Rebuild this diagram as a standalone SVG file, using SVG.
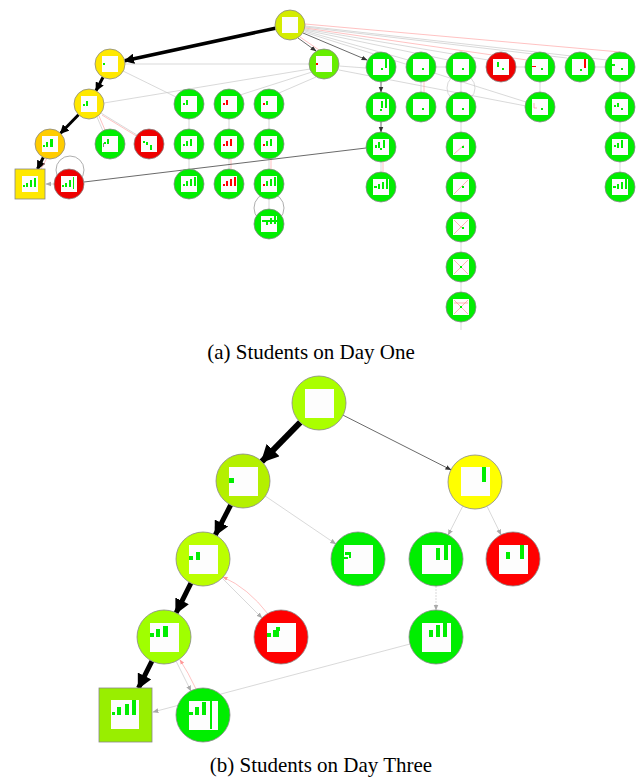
<svg xmlns="http://www.w3.org/2000/svg" width="642" height="778" viewBox="0 0 642 778">
<style>
.n{stroke:#888;stroke-width:0.8}
.w{fill:#fdfdfd}
.g{fill:#00ee00}
.r{fill:#ff0000}
.th{stroke:#000;fill:none}
.dk{stroke:#444;stroke-width:0.8;fill:none}
.lt{stroke:#c8c8c8;stroke-width:0.7;fill:none}
.pk{stroke:#ff9999;stroke-width:0.6;fill:none}
.lp{stroke:#999;stroke-width:0.8;fill:none}
.cap{font-family:"Liberation Serif",serif;font-size:21px;fill:#000}
.x{stroke:#ff8080;stroke-width:0.6;fill:none}
</style>
<defs>
<marker id="ah" viewBox="0 0 10 10" refX="9" refY="5" markerWidth="3" markerHeight="3" orient="auto" markerUnits="strokeWidth"><path d="M0,0 L10,5 L0,10 z" fill="#000"/></marker>
<marker id="ad" viewBox="0 0 10 10" refX="9" refY="5" markerWidth="6" markerHeight="6" orient="auto" markerUnits="userSpaceOnUse"><path d="M0,1 L10,5 L0,9 z" fill="#333"/></marker>
<marker id="ag" viewBox="0 0 10 10" refX="9" refY="5" markerWidth="6" markerHeight="6" orient="auto" markerUnits="userSpaceOnUse"><path d="M0,1 L10,5 L0,9 z" fill="#aaa"/></marker>
<marker id="ap" viewBox="0 0 10 10" refX="9" refY="5" markerWidth="5" markerHeight="5" orient="auto" markerUnits="userSpaceOnUse"><path d="M0,1 L10,5 L0,9 z" fill="#ff9999"/></marker>
</defs>

<!-- ================= (a) connectors ================= -->
<g id="edges-a">
  <path class="pk" d="M305,24 L620,52"/>
  <path class="lt" d="M305,26 L607,60"/>
  <path class="lt" d="M305,27 L567,58"/>
  <path class="pk" d="M305,28 L527,60"/>
  <path class="lt" d="M305,29 L488,60"/>
  <path class="lt" d="M305,30 L448,60"/>
  <path class="lt" d="M305,31 L408,60"/>
  <path class="lt" d="M304,32 L526,102"/>
  <path class="dk" d="M303,33 L367,60" marker-end="url(#ad)"/>
  <path class="dk" d="M298,38 L316,51" marker-end="url(#ad)"/>
  <path class="pk" d="M300,37 L319,50"/>
  <path class="th" stroke-width="3.5" d="M275.3,28.2 L124.7,60.8" marker-end="url(#ah)"/>
  <path class="th" stroke-width="3" d="M103,77.3 L96,90.7" marker-end="url(#ah)"/>
  <path class="th" stroke-width="3" d="M78.5,114.7 L60.5,133.3" marker-end="url(#ah)"/>
  <path class="th" stroke-width="3" d="M43.3,157.4 L37.5,169" marker-end="url(#ah)"/>
  <path class="pk" d="M47,158 L41,169"/>
  <path class="lt" d="M125,64 L309,64"/>
  <path class="lt" d="M123,71 L176,97"/>
  <path class="lt" d="M104,103 L310,69"/>
  <path class="lt" d="M97,117 L103,131"/>
  <path class="pk" d="M99,116 L105,130"/>
  <path class="lt" d="M101,113 L137,135"/>
  <path class="pk" d="M102,115 L138,137"/>
  <path class="lt" d="M240,95 L312,72"/>
  <path class="lt" d="M279,93 L316,77"/>
  <path class="lt" d="M339,66 L366,68"/>
  <path class="lt" d="M339,70 L526,106"/>
  <path class="lt" d="M189,119 L189,129"/><path class="lt" d="M189,159 L189,169"/>
  <path class="lt" d="M229,119 L229,129"/><path class="pk" d="M231,159 L231,169"/><path class="lt" d="M229,159 L229,169"/>
  <path class="lt" d="M269,119 L269,129"/><path class="lt" d="M269,159 L269,169"/><path class="pk" d="M271,159 L271,169"/>
  <path class="lt" d="M269,199 L269,209"/>
  <circle class="lp" cx="269" cy="208" r="15"/>
  <circle class="lp" cx="70" cy="170" r="14"/>
  <path class="dk" stroke="#666" d="M84,182 L366,148"/>
  <path class="lt" stroke="#888" d="M54,184 L46,184" marker-end="url(#ag)"/>
  <path class="dk" d="M381,82 L381,92" marker-end="url(#ad)"/>
  <path class="dk" d="M381,122 L381,132" marker-end="url(#ad)"/>
  <path class="lt" d="M381,162 L381,172"/><path class="pk" d="M383,162 L383,172"/>
  <path class="lt" d="M421,82 L421,92"/><path class="pk" d="M424,82 L424,92"/>
  <path class="lt" d="M461,82 L461,92"/><path class="lt" d="M461,122 L461,132"/>
  <path class="lt" d="M461,162 L461,172"/><path class="lt" d="M461,202 L461,212"/>
  <path class="lt" d="M461,242 L461,252"/><path class="lt" d="M461,282 L461,292"/>
  <path class="lt" d="M461,322 L461,330"/>
  <circle class="lt" cx="461" cy="88" r="14"/>
  <path class="lt" d="M540,82 L540,92"/>
  <path class="lt" d="M620,82 L620,92"/><path class="lt" d="M620,122 L620,132"/><path class="lt" d="M620,162 L620,172"/>
  <path class="lt" d="M436,67 L446,67"/><path class="lt" d="M516,67 L525,67"/><path class="lt" d="M595,67 L605,67"/>
</g>

<!-- ================= (a) nodes ================= -->
<g id="a0"><circle class="n" cx="290" cy="25" r="15" fill="#d4ec00"/><rect class="w" x="282" y="17" width="16" height="16"/></g>
<g id="a1"><circle class="n" cx="110" cy="64" r="15" fill="#ffe800"/><rect class="w" x="102" y="56" width="16" height="16"/><rect class="g" x="103" y="63" width="2" height="2"/></g>
<g id="a2"><circle class="n" cx="89" cy="104" r="15" fill="#ffe800"/><rect class="w" x="81" y="96" width="16" height="16"/><rect class="g" x="83" y="104" width="2" height="2"/><rect class="g" x="86" y="101" width="2" height="5"/></g>
<g id="a3"><circle class="n" cx="50" cy="144" r="15" fill="#ffcc00"/><rect class="w" x="42" y="136" width="16" height="16"/><rect class="g" x="43" y="145" width="2" height="2"/><rect class="g" x="46" y="142" width="2" height="5"/><rect class="g" x="50" y="139" width="3" height="8"/></g>
<g id="a4"><rect class="n" x="15" y="169" width="30" height="30" fill="#ffe800" stroke="#b8a800"/><rect class="w" x="22" y="176" width="16" height="16"/><rect class="g" x="23" y="185" width="2" height="2"/><rect class="g" x="26" y="183" width="2" height="4"/><rect class="g" x="30" y="180" width="2" height="7"/><rect class="g" x="34" y="178" width="2" height="9"/></g>
<g id="a5"><circle class="n" cx="69" cy="184" r="15" fill="#ee0000"/><rect class="w" x="61" y="176" width="16" height="16"/><rect class="g" x="62" y="185" width="2" height="2"/><rect class="g" x="65" y="183" width="2" height="4"/><rect class="g" x="69" y="180" width="2" height="7"/><rect class="g" x="73" y="177" width="1" height="12"/></g>
<g id="a6"><circle class="n" cx="110" cy="144" r="15" fill="#00ee00"/><rect class="w" x="102" y="136" width="16" height="16"/><rect class="g" x="104" y="142" width="2" height="2"/><rect class="g" x="107" y="139" width="2" height="5"/><rect fill="#888" x="103" y="143" width="1" height="4"/></g>
<g id="a7"><circle class="n" cx="149" cy="144" r="15" fill="#ee0000"/><rect class="w" x="141" y="136" width="16" height="16"/><rect class="g" x="143" y="141" width="2" height="2"/><rect class="g" x="146" y="142" width="2" height="3"/><rect class="g" x="150" y="145" width="2" height="5"/></g>
<g id="a8"><circle class="n" cx="189" cy="104" r="15" fill="#00ee00"/><rect class="w" x="181" y="96" width="16" height="16"/><rect class="g" x="183" y="103" width="2" height="2"/><rect class="g" x="186" y="100" width="2" height="5"/></g>
<g id="a9"><circle class="n" cx="229" cy="104" r="15" fill="#00ee00"/><rect class="w" x="221" y="96" width="16" height="16"/><rect class="r" x="223" y="103" width="2" height="2"/><rect class="r" x="226" y="100" width="2" height="5"/></g>
<g id="a10"><circle class="n" cx="269" cy="104" r="15" fill="#00ee00"/><rect class="w" x="261" y="96" width="16" height="16"/><rect class="r" x="263" y="103" width="2" height="2"/><rect class="g" x="266" y="101" width="2" height="4"/></g>
<g id="a11"><circle class="n" cx="189" cy="144" r="15" fill="#00ee00"/><rect class="w" x="181" y="136" width="16" height="16"/><rect class="g" x="183" y="144" width="2" height="2"/><rect class="g" x="186" y="141" width="2" height="5"/><rect class="g" x="190" y="139" width="2" height="7"/></g>
<g id="a12"><circle class="n" cx="229" cy="144" r="15" fill="#00ee00"/><rect class="w" x="221" y="136" width="16" height="16"/><rect class="r" x="223" y="144" width="2" height="2"/><rect class="r" x="226" y="141" width="2" height="5"/><rect class="r" x="230" y="139" width="2" height="7"/></g>
<g id="a13"><circle class="n" cx="269" cy="144" r="15" fill="#00ee00"/><rect class="w" x="261" y="136" width="16" height="16"/><rect class="r" x="263" y="144" width="2" height="2"/><rect class="g" x="266" y="141" width="2" height="5"/><rect class="g" x="270" y="139" width="2" height="7"/></g>
<g id="a14"><circle class="n" cx="189" cy="184" r="15" fill="#00ee00"/><rect class="w" x="181" y="176" width="16" height="16"/><rect class="g" x="183" y="184" width="2" height="2"/><rect class="g" x="186" y="181" width="2" height="5"/><rect class="g" x="190" y="179" width="2" height="7"/><rect class="g" x="194" y="177" width="2" height="9"/></g>
<g id="a15"><circle class="n" cx="229" cy="184" r="15" fill="#00ee00"/><rect class="w" x="221" y="176" width="16" height="16"/><rect class="r" x="223" y="184" width="2" height="2"/><rect class="r" x="226" y="181" width="2" height="5"/><rect class="r" x="230" y="179" width="2" height="7"/><rect class="r" x="234" y="177" width="2" height="9"/></g>
<g id="a16"><circle class="n" cx="269" cy="184" r="15" fill="#00ee00"/><rect class="w" x="261" y="176" width="16" height="16"/><rect class="r" x="263" y="184" width="2" height="2"/><rect class="g" x="266" y="181" width="2" height="5"/><rect class="g" x="270" y="179" width="2" height="7"/><rect class="g" x="274" y="177" width="2" height="9"/></g>
<g id="a17"><circle class="n" cx="269" cy="224" r="15" fill="#00ee00"/><rect class="w" x="261" y="216" width="16" height="16"/><rect class="g" x="262" y="220" width="15" height="2"/><rect class="g" x="266" y="220" width="2" height="5"/><rect class="g" x="270" y="218" width="2" height="6"/><rect class="g" x="274" y="216" width="2" height="8"/></g>
<g id="a18"><circle class="n" cx="324" cy="64" r="15" fill="#66ee00"/><rect class="w" x="316" y="56" width="16" height="16"/><rect class="r" x="316" y="63" width="2" height="2"/></g>

<g id="r1"><circle class="n" cx="381" cy="67" r="15" fill="#00ee00"/><rect class="w" x="373" y="59" width="16" height="16"/><rect class="g" x="385" y="59" width="2" height="9"/><rect class="g" x="381" y="68" width="2" height="2"/></g>
<g id="r2"><circle class="n" cx="421" cy="67" r="15" fill="#00ee00"/><rect class="w" x="413" y="59" width="16" height="16"/><rect class="g" x="422" y="68" width="2" height="2"/></g>
<g id="r3"><circle class="n" cx="461" cy="67" r="15" fill="#00ee00"/><rect class="w" x="453" y="59" width="16" height="16"/><rect class="g" x="462" y="68" width="2" height="2"/></g>
<g id="r4"><circle class="n" cx="501" cy="67" r="15" fill="#ee0000"/><rect class="w" x="493" y="59" width="16" height="16"/><rect class="g" x="497" y="62" width="2" height="5"/><rect class="g" x="502" y="68" width="2" height="2"/></g>
<g id="r5"><circle class="n" cx="540" cy="67" r="15" fill="#00ee00"/><rect class="w" x="532" y="59" width="16" height="16"/><rect class="r" x="532" y="66" width="4" height="1"/><rect class="g" x="541" y="68" width="2" height="2"/></g>
<g id="r6"><circle class="n" cx="580" cy="67" r="15" fill="#00ee00"/><rect class="w" x="572" y="59" width="16" height="16"/><rect class="r" x="584" y="59" width="2" height="9"/><rect class="g" x="580" y="69" width="2" height="2"/></g>
<g id="r7"><circle class="n" cx="620" cy="67" r="15" fill="#00ee00"/><rect class="w" x="612" y="59" width="16" height="16"/><rect class="g" x="612" y="64" width="3" height="2"/><rect class="g" x="621" y="68" width="2" height="2"/></g>
<g id="r8"><circle class="n" cx="381" cy="107" r="15" fill="#00ee00"/><rect class="w" x="373" y="99" width="16" height="16"/><rect class="g" x="381" y="101" width="2" height="7"/><rect class="g" x="385" y="99" width="2" height="9"/><rect class="g" x="380" y="109" width="2" height="2"/></g>
<g id="r9"><circle class="n" cx="421" cy="107" r="15" fill="#00ee00"/><rect class="w" x="413" y="99" width="16" height="16"/><rect class="g" x="422" y="108" width="2" height="2"/></g>
<g id="r10"><circle class="n" cx="461" cy="107" r="15" fill="#00ee00"/><rect class="w" x="453" y="99" width="16" height="16"/><rect class="g" x="462" y="108" width="2" height="2"/></g>
<g id="r11"><circle class="n" cx="540" cy="107" r="15" fill="#00ee00"/><rect class="w" x="532" y="99" width="16" height="16"/><path class="x" stroke="#f33" d="M534,103 L534,108 L537,108"/><rect class="g" x="541" y="108" width="2" height="2"/></g>
<g id="r12"><circle class="n" cx="620" cy="107" r="15" fill="#00ee00"/><rect class="w" x="612" y="99" width="16" height="16"/><rect class="g" x="614" y="105" width="2" height="2"/><rect class="g" x="617" y="103" width="2" height="4"/><rect class="g" x="621" y="108" width="2" height="2"/></g>
<g id="r13"><circle class="n" cx="381" cy="147" r="15" fill="#00ee00"/><rect class="w" x="373" y="139" width="16" height="16"/><rect class="g" x="375" y="145" width="2" height="3"/><rect class="g" x="378" y="142" width="2" height="6"/><rect class="g" x="383" y="140" width="2" height="8"/><rect class="g" x="380" y="148" width="2" height="2"/></g>
<g id="r14"><circle class="n" cx="461" cy="147" r="15" fill="#00ee00"/><rect class="w" x="453" y="139" width="16" height="16"/><path class="x" d="M454,154 L464,145"/><rect class="g" x="462" y="146" width="2" height="2"/></g>
<g id="r15"><circle class="n" cx="620" cy="147" r="15" fill="#00ee00"/><rect class="w" x="612" y="139" width="16" height="16"/><rect class="g" x="614" y="145" width="2" height="2"/><rect class="g" x="617" y="143" width="2" height="5"/><rect class="g" x="621" y="140" width="2" height="8"/></g>
<g id="r16"><circle class="n" cx="381" cy="187" r="15" fill="#00ee00"/><rect class="w" x="373" y="179" width="16" height="16"/><rect class="g" x="374" y="186" width="3" height="2"/><rect class="g" x="378" y="184" width="2" height="5"/><rect class="g" x="382" y="182" width="2" height="7"/><rect class="g" x="386" y="179" width="2" height="10"/></g>
<g id="r17"><circle class="n" cx="461" cy="187" r="15" fill="#00ee00"/><rect class="w" x="453" y="179" width="16" height="16"/><path class="x" d="M454,194 L468,180"/><rect class="g" x="462" y="186" width="2" height="2"/></g>
<g id="r18"><circle class="n" cx="620" cy="187" r="15" fill="#00ee00"/><rect class="w" x="612" y="179" width="16" height="16"/><rect class="g" x="613" y="186" width="3" height="2"/><rect class="g" x="617" y="184" width="2" height="5"/><rect class="g" x="621" y="182" width="2" height="7"/><rect class="g" x="625" y="179" width="2" height="10"/></g>
<g id="r19"><circle class="n" cx="461" cy="227" r="15" fill="#00ee00"/><rect class="w" x="453" y="219" width="16" height="16"/><path class="x" d="M454,234 L468,220 M454,220 L462,228"/><rect class="g" x="462" y="227" width="2" height="2"/></g>
<g id="r20"><circle class="n" cx="461" cy="267" r="15" fill="#00ee00"/><rect class="w" x="453" y="259" width="16" height="16"/><path class="x" d="M454,274 L468,260 M454,260 L468,274"/><rect class="g" x="460" y="266" width="2" height="2"/></g>
<g id="r21"><circle class="n" cx="461" cy="307" r="15" fill="#00ee00"/><rect class="w" x="453" y="299" width="16" height="16"/><path class="x" d="M454,314 L468,300 M454,300 L468,314 M454,303 L468,303"/><rect class="g" x="460" y="306" width="2" height="2"/></g>

<text class="cap" x="311" y="359" text-anchor="middle">(a)  Students on Day One</text>

<!-- ================= (b) connectors ================= -->
<g id="edges-b">
  <path class="th" stroke-width="6" d="M300.2,422.3 L261.8,461.7" marker-end="url(#ah)"/>
  <path class="th" stroke-width="5" d="M230.7,505 L215.3,535" marker-end="url(#ah)"/>
  <path class="th" stroke-width="5" d="M190.9,583.1 L176.1,612.9" marker-end="url(#ah)"/>
  <path class="th" stroke-width="5" d="M151.9,661.1 L138.5,688" marker-end="url(#ah)"/>
  <path class="dk" stroke="#333" d="M343.1,415.2 L450.9,469.8" marker-end="url(#ad)"/>
  <path class="lt" stroke="#aaa" d="M265.3,496.1 L335.7,543.9" marker-end="url(#ag)"/>
  <path class="lt" stroke="#aaa" d="M462.8,506.1 L448.2,534.9" marker-end="url(#ag)"/>
  <path class="lt" stroke="#aaa" d="M487,506.2 L501,534.8" marker-end="url(#ag)"/>
  <path class="lt" stroke="#999" stroke-dasharray="2,1" d="M436,586 L436,610" marker-end="url(#ag)"/>
  <path class="lt" stroke="#aaa" d="M410,644 L153,712" marker-end="url(#ag)"/>
  <path class="lt" stroke="#999" d="M222.1,578.1 L261.9,617.9" marker-end="url(#ag)"/>
  <path class="pk" d="M268,614 Q248,588 223,577" marker-end="url(#ap)"/>
  <path class="lt" stroke="#999" d="M176.1,661.1 L190.9,690.9" marker-end="url(#ag)"/>
  <path class="pk" d="M196,689 Q188,672 180,660" marker-end="url(#ap)"/>
</g>

<!-- ================= (b) nodes ================= -->
<g id="b0"><circle class="n" cx="319" cy="403" r="27" fill="#aaff00"/><rect class="w" x="305" y="389" width="29" height="29"/></g>
<g id="b1"><circle class="n" cx="243" cy="481" r="27" fill="#b4f000"/><rect class="w" x="229" y="467" width="29" height="29"/><rect class="g" x="229" y="478" width="5" height="5"/></g>
<g id="b2"><circle class="n" cx="475" cy="482" r="27" fill="#ffff00"/><rect class="w" x="461" y="467" width="29" height="29"/><rect class="g" x="482" y="467" width="4" height="15"/></g>
<g id="b3"><circle class="n" cx="203" cy="559" r="27" fill="#bbff00"/><rect class="w" x="189" y="545" width="29" height="29"/><rect class="g" x="189" y="556" width="4" height="4"/><rect class="g" x="196" y="552" width="4" height="8"/></g>
<g id="b4"><circle class="n" cx="358" cy="559" r="27" fill="#00ee00"/><rect class="w" x="344" y="545" width="29" height="29"/><rect class="g" x="345" y="552" width="6" height="3"/><rect class="g" x="349" y="552" width="2" height="6"/><rect class="g" x="344" y="557" width="4" height="2"/></g>
<g id="b5"><circle class="n" cx="436" cy="559" r="27" fill="#00ee00"/><rect class="w" x="422" y="545" width="29" height="29"/><rect class="g" x="436" y="548" width="4" height="12"/><rect class="g" x="444" y="545" width="4" height="15"/></g>
<g id="b6"><circle class="n" cx="513" cy="559" r="27" fill="#ff0000"/><rect class="w" x="499" y="545" width="29" height="29"/><rect class="g" x="506" y="552" width="4" height="7"/><rect class="g" x="520" y="545" width="4" height="14"/></g>
<g id="b7"><circle class="n" cx="164" cy="637" r="27" fill="#a0ff00"/><rect class="w" x="150" y="623" width="29" height="29"/><rect class="g" x="150" y="633" width="4" height="4"/><rect class="g" x="156" y="629" width="4" height="8"/><rect class="g" x="163" y="626" width="5" height="11"/></g>
<g id="b8"><circle class="n" cx="281" cy="637" r="27" fill="#ff0000"/><rect class="w" x="267" y="623" width="29" height="29"/><rect class="g" x="267" y="633" width="4" height="4"/><rect class="g" x="273" y="630" width="6" height="7"/><rect class="g" x="276" y="627" width="4" height="4"/></g>
<g id="b9"><circle class="n" cx="436" cy="637" r="27" fill="#00ee00"/><rect class="w" x="422" y="623" width="29" height="29"/><rect class="g" x="429" y="630" width="4" height="7"/><rect class="g" x="436" y="625" width="4" height="12"/><rect class="g" x="443" y="623" width="4" height="14"/></g>
<g id="b10"><rect class="n" x="99" y="688" width="53" height="54" fill="#99ee00"/><rect class="w" x="111" y="700" width="28" height="29"/><rect class="g" x="112" y="712" width="3" height="3"/><rect class="g" x="117" y="707" width="4" height="8"/><rect class="g" x="125" y="704" width="4" height="11"/><rect class="g" x="132" y="700" width="4" height="15"/></g>
<g id="b11"><circle class="n" cx="203" cy="715" r="27" fill="#00ee00"/><rect class="w" x="189" y="701" width="29" height="29"/><rect class="g" x="189" y="712" width="4" height="3"/><rect class="g" x="195" y="707" width="4" height="8"/><rect class="g" x="202" y="702" width="4" height="13"/><rect class="g" x="210" y="701" width="2" height="28"/></g>

<text class="cap" x="321" y="772" text-anchor="middle">(b)  Students on Day Three</text>
</svg>
